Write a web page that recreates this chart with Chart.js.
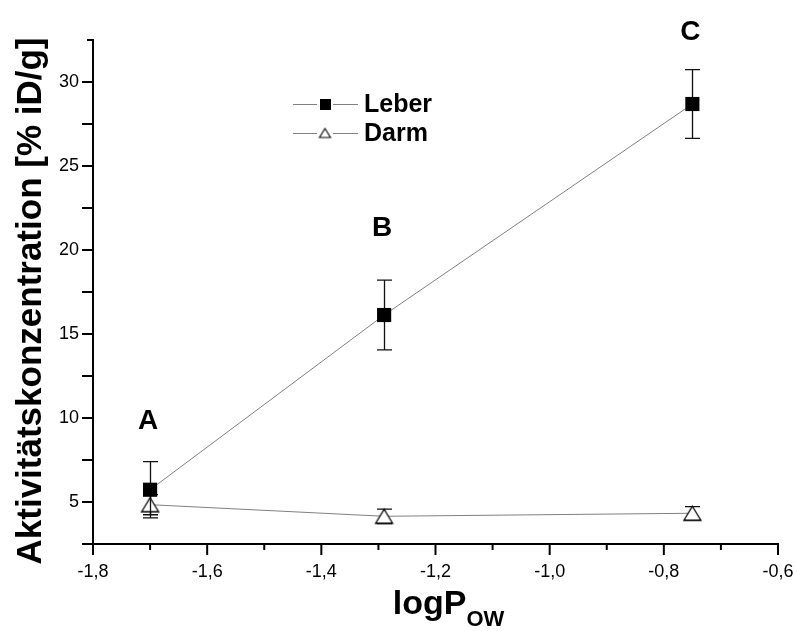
<!DOCTYPE html>
<html>
<head>
<meta charset="utf-8">
<script src="https://cdn.jsdelivr.net/npm/chart.js@4"></script>
<style>
html,body{margin:0;padding:0;background:#fff;}
#wrap{width:797px;height:631px;position:relative;}
</style>
</head>
<body>
<div id="wrap"><canvas id="c" width="797" height="631"></canvas></div>
<script>
// ---- data ----
const xValues = [-1.70, -1.29, -0.75];
const leberValues = [5.73, 16.13, 28.69];
const leberErrors = [1.67, 2.08, 2.05];
const darmValues = [4.84, 4.15, 4.33];
const darmErrors = [0.60, 0.43, 0.40];
const pointLabels = ['A', 'B', 'C'];
const pointLabelY = [9.8, 21.3, 32.95];
const seriesNames = ['Leber', 'Darm'];
const xTitle = 'logP';
const xTitleSub = 'OW';
const yTitle = 'Aktivitätskonzentration [% iD/g]';

const FONT = '"Liberation Sans", Arial, sans-serif';

function makeTriangle(w, h, lw) {
  const c = document.createElement('canvas');
  c.width = w + 2 * lw + 2; c.height = h + 2 * lw + 2;
  const g = c.getContext('2d');
  const cx = c.width / 2, cy = c.height / 2;
  g.beginPath();
  g.moveTo(cx, cy - h / 2);
  g.lineTo(cx + w / 2, cy + h / 2);
  g.lineTo(cx - w / 2, cy + h / 2);
  g.closePath();
  g.fillStyle = '#fff'; g.fill();
  g.lineWidth = lw; g.strokeStyle = '#000'; g.stroke();
  return c;
}
const triMarker = makeTriangle(17, 14, 1.3);
const triLegend = makeTriangle(11, 9, 1.1);

const toPts = (ys) => xValues.map((x, i) => ({x: x, y: ys[i]}));

const errorBars = {
  id: 'errorBars',
  beforeDatasetDraw(chart, args) {
    const ds = chart.data.datasets[args.index];
    const errs = ds.errors;
    if (!errs) return;
    const xs = chart.scales.x, ys = chart.scales.y, ctx = chart.ctx;
    ctx.save();
    ctx.strokeStyle = '#111';
    ctx.lineWidth = 1.3;
    ds.data.forEach((p, i) => {
      const px = Math.round(xs.getPixelForValue(p.x)) + 0.5;
      const yt = ys.getPixelForValue(p.y + errs[i]);
      const yb = ys.getPixelForValue(p.y - errs[i]);
      ctx.beginPath();
      ctx.moveTo(px, yt); ctx.lineTo(px, yb);
      ctx.moveTo(px - 7.5, yt); ctx.lineTo(px + 7.5, yt);
      ctx.moveTo(px - 7.5, yb); ctx.lineTo(px + 7.5, yb);
      ctx.stroke();
    });
    ctx.restore();
  }
};

const decor = {
  id: 'decor',
  afterDraw(chart) {
    const ctx = chart.ctx, xs = chart.scales.x, ys = chart.scales.y;
    const area = chart.chartArea;
    ctx.save();
    ctx.strokeStyle = '#000';
    ctx.lineWidth = 2;
    // x ticks (major every 0.2, minor every 0.1)
    for (let k = 0; k <= 12; k++) {
      const v = xs.min + k * 0.1;
      const px = xs.getPixelForValue(v);
      const len = (k % 2 === 0) ? 11 : 6;
      ctx.beginPath();
      ctx.moveTo(px, area.bottom); ctx.lineTo(px, area.bottom + len);
      ctx.stroke();
    }
    // y ticks every 2.5
    for (let k = 0; k <= 12; k++) {
      const v = ys.min + k * 2.5;
      const py = ys.getPixelForValue(v);
      const len = (v > 30.1) ? 6 : 11;
      ctx.beginPath();
      ctx.moveTo(area.left, py); ctx.lineTo(area.left - len, py);
      ctx.stroke();
    }
    // point labels A B C
    ctx.fillStyle = '#000';
    ctx.font = 'bold 28px ' + FONT;
    ctx.textAlign = 'center';
    ctx.textBaseline = 'middle';
    pointLabels.forEach((t, i) => {
      ctx.fillText(t, xs.getPixelForValue(xValues[i]) - 2, ys.getPixelForValue(pointLabelY[i]));
    });
    // y title
    ctx.save();
    ctx.translate(31, (area.top + area.bottom) / 2 + 9);
    ctx.rotate(-Math.PI / 2);
    ctx.font = 'bold 35px ' + FONT;
    ctx.textAlign = 'center';
    ctx.textBaseline = 'middle';
    ctx.fillText(yTitle, 0, 0);
    ctx.restore();
    // x title with subscript
    ctx.font = 'bold 34px ' + FONT;
    const w1 = ctx.measureText(xTitle).width;
    ctx.font = 'bold 22px ' + FONT;
    const w2 = ctx.measureText(xTitleSub).width;
    const cx = (area.left + area.right) / 2 + 13;
    const x0 = cx - (w1 + w2) / 2;
    ctx.textAlign = 'left';
    ctx.textBaseline = 'alphabetic';
    ctx.font = 'bold 34px ' + FONT;
    ctx.fillText(xTitle, x0, 614);
    ctx.font = 'bold 22px ' + FONT;
    ctx.fillText(xTitleSub, x0 + w1, 626);
    // legend
    const rows = [104, 133];
    ctx.font = 'bold 25px ' + FONT;
    ctx.textBaseline = 'middle';
    rows.forEach((ry, i) => {
      ctx.strokeStyle = '#808080';
      ctx.lineWidth = 1;
      ctx.beginPath();
      ctx.moveTo(293, ry + 0.5); ctx.lineTo(317, ry + 0.5);
      ctx.moveTo(333, ry + 0.5); ctx.lineTo(358, ry + 0.5);
      ctx.stroke();
      if (i === 0) {
        ctx.fillStyle = '#000';
        ctx.fillRect(320, ry - 5, 11, 11);
      } else {
        ctx.drawImage(triLegend, 325 - triLegend.width / 2, ry - triLegend.height / 2);
      }
      ctx.fillStyle = '#000';
      ctx.fillText(seriesNames[i], 364, ry + 1);
    });
    ctx.restore();
  }
};

new Chart(document.getElementById('c'), {
  type: 'scatter',
  data: {
    datasets: [
      {
        label: seriesNames[0],
        data: toPts(leberValues),
        errors: leberErrors,
        showLine: true,
        borderColor: '#808080',
        borderWidth: 1,
        pointStyle: 'rect',
        pointRadius: 10,
        pointHoverRadius: 10,
        pointBackgroundColor: '#000',
        pointBorderColor: '#000',
        pointBorderWidth: 0,
        order: 0
      },
      {
        label: seriesNames[1],
        data: toPts(darmValues),
        errors: darmErrors,
        showLine: true,
        borderColor: '#808080',
        borderWidth: 1,
        pointStyle: triMarker,
        pointRadius: 9,
        order: 1
      }
    ]
  },
  options: {
    responsive: false,
    animation: false,
    events: [],
    layout: {padding: {left: 0, top: 40, right: 19, bottom: 0}},
    plugins: {legend: {display: false}, tooltip: {enabled: false}},
    scales: {
      x: {
        type: 'linear',
        min: -1.8, max: -0.6,
        afterFit(s) { s.height = 87; s.paddingLeft = 0; s.paddingRight = 0; },
        grid: {display: false, drawTicks: false},
        border: {display: true, color: '#000', width: 2},
        ticks: {
          stepSize: 0.2, autoSkip: false, maxRotation: 0,
          padding: 17, color: '#000',
          font: {family: FONT, size: 18},
          callback: (v) => v.toFixed(1).replace('.', ',')
        }
      },
      y: {
        type: 'linear',
        min: 2.5, max: 32.5,
        afterFit(s) { s.width = 93; s.paddingTop = 0; s.paddingBottom = 0; },
        grid: {display: false, drawTicks: false},
        border: {display: true, color: '#000', width: 2},
        ticks: {
          stepSize: 2.5, autoSkip: false,
          padding: 14, color: '#000',
          font: {family: FONT, size: 18},
          callback: (v) => (Math.abs(v % 5) < 1e-6 ? String(v) : '')
        }
      }
    }
  },
  plugins: [errorBars, decor]
});
</script>
</body>
</html>
